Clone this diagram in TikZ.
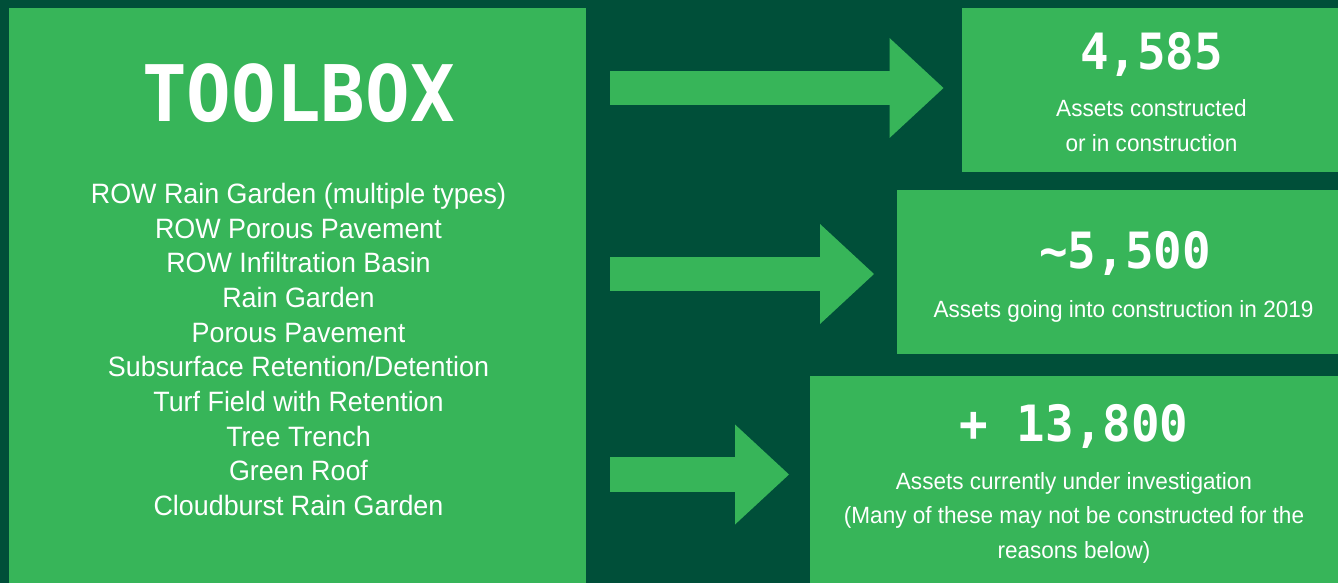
\documentclass[tikz,border=0pt]{standalone}
\usepackage{fontspec}
\setmainfont{Liberation Sans}
\newfontfamily\bodyfont[FakeStretch=0.96]{Liberation Sans}
\newfontfamily\countfont[FakeStretch=0.95]{DejaVu Sans Mono}
\usetikzlibrary{arrows.meta}

\definecolor{deepgreen}{RGB}{0,79,57}
\definecolor{leafgreen}{RGB}{55,181,89}

\begin{document}
\begin{tikzpicture}[x=1pt,y=-1pt,>={Triangle[length=54pt,width=100pt,line width=0pt]}]
  \tikzset{panel/.style={fill=leafgreen,anchor=north west,inner sep=0pt,outer sep=0pt},
    count/.style={text=white,font=\countfont\bfseries\fontsize{50}{50}\selectfont,anchor=base},
    item/.style={text=white,font=\bodyfont\fontsize{28}{34.7}\selectfont,anchor=base},
    note/.style={text=white,font=\bodyfont\fontsize{23.5}{35}\selectfont,anchor=base,align=center,inner sep=0pt},
    flow/.style={leafgreen,line width=34.6pt,->}}
  \fill[deepgreen] (0,0) rectangle (1338,583);
  \useasboundingbox (0,0) rectangle (1338,583);

  % boxes
  \node[panel,minimum width=577,minimum height=575] (toolbox) at (9,8) {};
  \node[panel,minimum width=376,minimum height=164] (built) at (962,8) {};
  \node[panel,minimum width=441,minimum height=164] (planned) at (897,190) {};
  \node[panel,minimum width=528,minimum height=207] (probed) at (810,376) {};

  % toolbox contents
  \node[count,font=\countfont\bfseries\fontsize{78}{78}\selectfont] (title) at (298.5,122) {TOOLBOX};
  \foreach \tool [count=\i from 0] in {ROW Rain Garden (multiple types),ROW Porous Pavement,
      ROW Infiltration Basin,Rain Garden,Porous Pavement,Subsurface Retention/Detention,
      Turf Field with Retention,Tree Trench,Green Roof,Cloudburst Rain Garden}
    \node[item] (tool\i) at (298.5,{203.3+34.7*\i}) {\tool};

  % counts (a note sits on the baseline of its last line)
  \node[count] (n1) at (1151.5,70) {4,585};
  \node[note] (t1) at (1151.5,151.7) {Assets constructed\\or in construction};
  \node[count] (n2) at (1125,268) {\textasciitilde5,500};
  \node[note] (t2) at (1123.5,317) {Assets going into construction in 2019};
  \node[count] (n3) at (1074,441.7) {+ 13,800};
  \node[note,font=\bodyfont\fontsize{23.5}{34.5}\selectfont] (t3) at (1074,558)
    {Assets currently under investigation\\(Many of these may not be constructed for the\\reasons below)};

  % arrows
  \coordinate (a1) at (610,88);
  \coordinate (b1) at (943.5,88);
  \coordinate (a2) at (610,274);
  \coordinate (b2) at (874,274);
  \coordinate (a3) at (610,474.5);
  \coordinate (b3) at (789,474.5);
  \draw[flow] (a1) -- (b1);
  \draw[flow] (a2) -- (b2);
  \draw[flow] (a3) -- (b3);
\end{tikzpicture}
\end{document}
